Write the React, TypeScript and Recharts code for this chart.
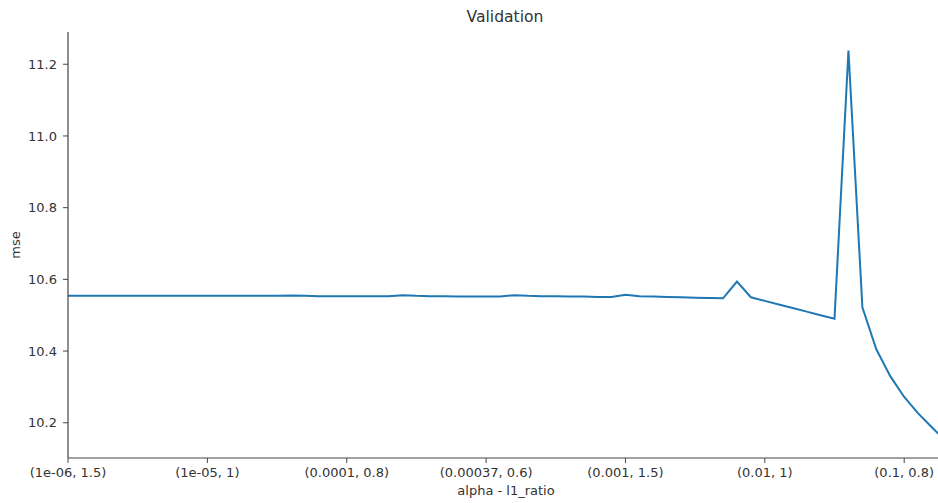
import { LineChart, Line, XAxis, YAxis } from 'recharts'

// index along the (alpha, l1_ratio) grid, 8 alphas x 8 l1 ratios
const mseValues = [
  10.554, 10.554, 10.554, 10.554, 10.554, 10.554, 10.554, 10.554,
  10.554, 10.554, 10.554, 10.554, 10.554, 10.554, 10.554, 10.554,
  10.555, 10.554, 10.553, 10.553, 10.553, 10.553, 10.553, 10.553,
  10.556, 10.554, 10.553, 10.553, 10.552, 10.552, 10.552, 10.552,
  10.556, 10.554, 10.553, 10.553, 10.552, 10.552, 10.551, 10.551,
  10.557, 10.553, 10.552, 10.551, 10.55, 10.549, 10.548, 10.547,
  10.594, 10.55, 10.54, 10.53, 10.52, 10.51, 10.5, 10.49,
  11.238, 10.522, 10.405, 10.33, 10.272, 10.226, 10.187, 10.148,
]

const tickPositions = [0, 10, 20, 30, 40, 50, 60]
const tickLabels = [
  '(1e-06, 1.5)',
  '(1e-05, 1)',
  '(0.0001, 0.8)',
  '(0.00037, 0.6)',
  '(0.001, 1.5)',
  '(0.01, 1)',
  '(0.1, 0.8)',
]
const yTicks = [10.2, 10.4, 10.6, 10.8, 11.0, 11.2]

const FONT = "'DejaVu Sans', sans-serif"
const TEXT = '#333'
const SPINE = '#444'

export default function App() {
  const data = mseValues.map((mse, i) => ({ i, mse }))

  const formatX = (v: number) => {
    const idx = tickPositions.indexOf(v)
    return idx >= 0 ? tickLabels[idx] : ''
  }

  return (
    <div
      style={{
        position: 'absolute',
        left: 0,
        top: 0,
        width: 938,
        height: 503,
        overflow: 'hidden',
        background: '#fff',
        fontFamily: FONT,
      }}
    >
      <LineChart
        width={960}
        height={503}
        data={data}
        margin={{ top: 32, right: 14, left: 0, bottom: 0 }}
      >
        <XAxis
          xAxisId="top"
          orientation="top"
          type="number"
          dataKey="i"
          domain={[0, 63]}
          height={0}
          tick={false}
          tickLine={false}
          axisLine={{ stroke: SPINE, strokeWidth: 1.2 }}
        />
        <XAxis
          type="number"
          dataKey="i"
          domain={[0, 63]}
          ticks={tickPositions}
          interval={0}
          tickFormatter={formatX}
          height={45}
          tickSize={5}
          tickMargin={5}
          axisLine={{ stroke: SPINE, strokeWidth: 1.2 }}
          tickLine={{ stroke: SPINE }}
          tick={{ fill: TEXT, fontSize: 13, fontFamily: FONT }}
        />
        <YAxis
          type="number"
          domain={[10.1017, 11.29]}
          allowDataOverflow
          ticks={yTicks}
          interval={0}
          tickFormatter={(v: number) => v.toFixed(1)}
          width={68}
          tickSize={5}
          tickMargin={6}
          axisLine={{ stroke: SPINE, strokeWidth: 1.2 }}
          tickLine={{ stroke: SPINE }}
          tick={{ fill: TEXT, fontSize: 13, fontFamily: FONT }}
        />
        <Line
          type="linear"
          dataKey="mse"
          stroke="#1f77b4"
          strokeWidth={2}
          dot={false}
          isAnimationActive={false}
        />
      </LineChart>

      {/* title and axis labels */}
      <div
        style={{
          position: 'absolute',
          left: 505,
          top: 10,
          transform: 'translateX(-50%)',
          fontSize: 15.6,
          lineHeight: 1,
          color: TEXT,
          whiteSpace: 'nowrap',
        }}
      >
        Validation
      </div>
      <div
        style={{
          position: 'absolute',
          left: 506,
          top: 484,
          transform: 'translateX(-50%)',
          fontSize: 13,
          lineHeight: 1,
          color: TEXT,
          whiteSpace: 'nowrap',
        }}
      >
        alpha - l1_ratio
      </div>
      <div
        style={{
          position: 'absolute',
          left: 15,
          top: 245,
          transform: 'translate(-50%, -50%) rotate(-90deg)',
          fontSize: 13,
          lineHeight: 1,
          color: TEXT,
          whiteSpace: 'nowrap',
        }}
      >
        mse
      </div>
    </div>
  )
}
